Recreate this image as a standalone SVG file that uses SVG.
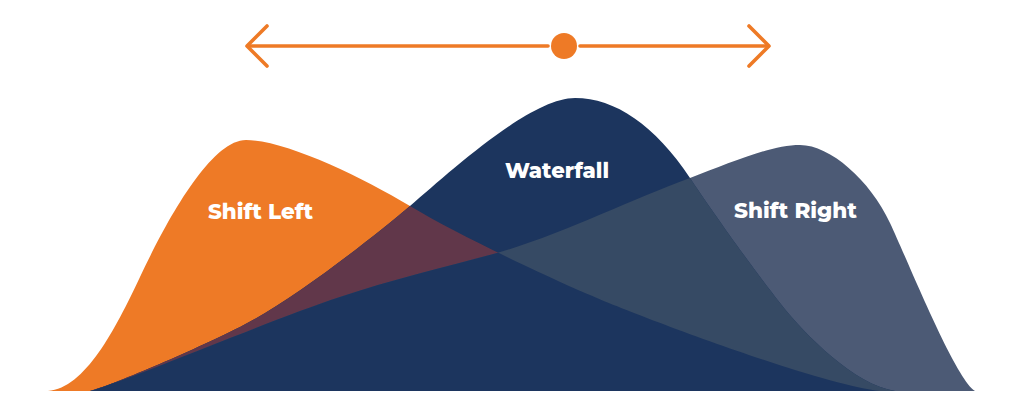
<svg xmlns="http://www.w3.org/2000/svg" xmlns:xlink="http://www.w3.org/1999/xlink" width="1024" height="407" viewBox="0 0 1024 407">
  <style>
    .lbl { font-family: Montserrat, "Open Sans", "Liberation Sans", sans-serif; font-weight: 800; font-size: 21px; fill: #ffffff; text-anchor: middle; }
    .arrow { fill: none; stroke: #EE7A26; stroke-width: 3.6; stroke-linecap: round; stroke-linejoin: round; }
  </style>
  <defs>
    <path id="pO" d="M48,391 C85,388 115,330 140,277 C165,224 210,140 246,140 C285,140 360,176 410,206 C460,236 550,278 590,295 C630,313 820,385 880,391 Z"/>
    <path id="pW" d="M90,391 C110,386 190,352 240,327 C290,302 370,240 410,206 C450,172 530,98 575,98 C615,98 655,125 690,178 C710,208 750,265 780,303 C805,335 855,385 895,391 Z"/>
    <path id="pR" d="M90,391 C140,376 270,320 340,297 C390,280 450,266 497,253 C560,235 630,200 690,178 C730,163 770,145 800,145 C830,145 870,180 890,223 C910,266 955,378 975,391 Z"/>
    <clipPath id="clipO"><use xlink:href="#pO"/></clipPath>
    <clipPath id="clipR"><use xlink:href="#pR"/></clipPath>
  </defs>
  <rect width="1024" height="407" fill="#ffffff"/>

  <g id="shift-left-curve"><use xlink:href="#pO" fill="#EE7A26"/></g>
  <g id="shift-right-curve"><use xlink:href="#pR" fill="#4C5A75"/></g>
  <g id="waterfall-curve"><use xlink:href="#pW" fill="#1C355E"/></g>
  <g id="overlaps">
    <g clip-path="url(#clipO)"><use xlink:href="#pW" fill="#61374A"/></g>
    <g clip-path="url(#clipR)"><use xlink:href="#pW" fill="#364A64"/></g>
    <g clip-path="url(#clipR)"><g clip-path="url(#clipO)"><use xlink:href="#pW" fill="#1C355E"/></g></g>
  </g>

  <g id="shift-left"><text class="lbl" x="260.5" y="219" textLength="105" lengthAdjust="spacingAndGlyphs">Shift Left</text></g>
  <g id="waterfall"><text class="lbl" x="557" y="178" textLength="104" lengthAdjust="spacingAndGlyphs">Waterfall</text></g>
  <g id="shift-right"><text class="lbl" x="795.5" y="218" textLength="123" lengthAdjust="spacingAndGlyphs">Shift Right</text></g>

  <g id="connectors">
    <line class="arrow" x1="248" y1="46" x2="548" y2="46"/>
    <line class="arrow" x1="580" y1="46" x2="768" y2="46"/>
    <polyline class="arrow" points="267,26 247,46 267,66"/>
    <polyline class="arrow" points="749,26 769,46 749,66"/>
    <circle cx="564" cy="46" r="13" fill="#EE7A26"/>
  </g>
</svg>
